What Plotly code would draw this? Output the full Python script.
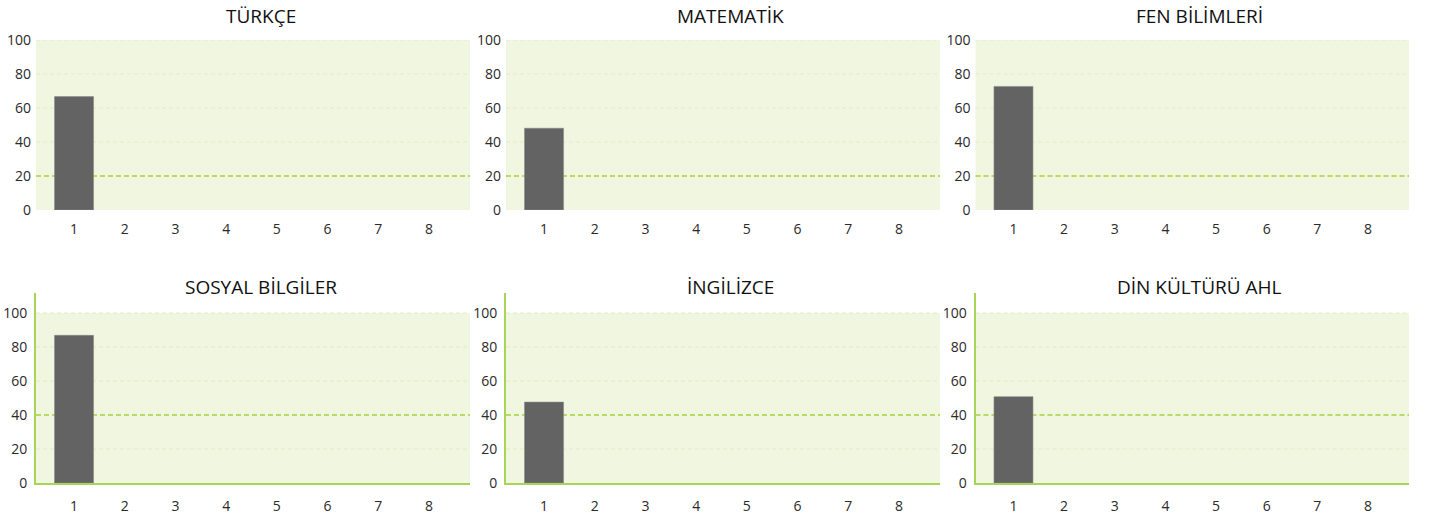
import plotly.graph_objects as go

W, H = 1429, 520

subjects = ["TÜRKÇE", "MATEMATİK", "FEN BİLİMLERİ", "SOSYAL BİLGİLER", "İNGİLİZCE", "DİN KÜLTÜRÜ AHL"]
exams = [1, 2, 3, 4, 5, 6, 7, 8]
exam_labels = ["1", "2", "3", "4", "5", "6", "7", "8"]
scores = [66.7, 48.1, 72.7, 86.9, 47.6, 50.8]
thresholds = [20, 20, 20, 40, 40, 40]
y_ticks = [0, 20, 40, 60, 80, 100]
grid_vals = [20, 40, 60, 80, 100]

# pixel layout of panels (screen coordinates)
col_px = [(36, 470), (506, 940), (975.5, 1409)]
row_px = [(40, 210), (293, 483)]          # top/bottom of plot areas
row_range = [[0, 100], [0, 111.8]]
title_y_px = [16, 287]
title_dx = 7.5

BG = "#f1f6e1"
GRID = "#dfecc2"
THR = "#a6d236"
AXIS = "#a9d45a"
BAR = "#636363"
TICKFONT = dict(family="Open Sans", size=14, color="#2a2a2a")

fig = go.Figure()
layout = dict(
    width=W, height=H, margin=dict(l=0, r=0, t=0, b=0, autoexpand=False),
    paper_bgcolor="white", plot_bgcolor="white", showlegend=False,
    font=dict(family="Open Sans", size=13, color="#333333"),
)
shapes = []
annotations = []

for i, subj in enumerate(subjects):
    r, c = divmod(i, 3)
    n = i + 1
    xs = "" if n == 1 else str(n)
    x0p, x1p = col_px[c]
    ytop, ybot = row_px[r]
    layout[f"xaxis{xs}"] = dict(
        domain=[x0p / W, x1p / W], range=[0.25, 8.81],
        tickmode="array", tickvals=exams, ticktext=exam_labels,
        showgrid=False, zeroline=False, ticks="", automargin=False,
        ticklabelstandoff=9,
        showline=(r == 1), linecolor=AXIS, linewidth=2,
        anchor=f"y{xs}", fixedrange=True, tickfont=TICKFONT,
    )
    layout[f"yaxis{xs}"] = dict(
        domain=[1 - ybot / H, 1 - ytop / H], range=row_range[r],
        tickmode="array", tickvals=y_ticks,
        showgrid=False, zeroline=False, ticks="", automargin=False,
        ticklabelstandoff=4,
        showline=(r == 1), linecolor=AXIS, linewidth=2,
        anchor=f"x{xs}", fixedrange=True, tickfont=TICKFONT,
    )
    # plot background only from 0 to 100
    shapes.append(dict(type="rect", xref=f"x{xs} domain", yref=f"y{xs}",
                       x0=0, x1=1, y0=0, y1=100, fillcolor=BG,
                       line=dict(width=0), layer="below"))
    # dashed gridlines and threshold line
    for g in grid_vals:
        is_thr = (g == thresholds[i])
        shapes.append(dict(
            type="line", xref=f"x{xs} domain", yref=f"y{xs}",
            x0=0, x1=1, y0=g, y1=g, layer="below",
            line=dict(color=THR if is_thr else GRID,
                      width=1.3 if is_thr else 1,
                      dash="5px,3px" if is_thr else "4px,3px"),
        ))
    fig.add_trace(go.Bar(
        x=[exams[0]], y=[scores[i]], width=0.77,
        marker=dict(color=BAR, line=dict(color="#8a8a8a", width=0.6)),
        xaxis=f"x{xs}", yaxis=f"y{xs}", hoverinfo="y",
    ))
    annotations.append(dict(
        text=subj, xref="paper", yref="paper",
        x=((x0p + x1p) / 2 + title_dx) / W, y=1 - title_y_px[r] / H,
        xanchor="center", yanchor="middle", showarrow=False,
        font=dict(family="Open Sans", size=19, color="#111111"),
    ))

layout["shapes"] = shapes
layout["annotations"] = annotations
fig.update_layout(**layout)
fig.write_html("out.html", config={"displayModeBar": False},
               post_script="document.body.style.margin='0px';")
